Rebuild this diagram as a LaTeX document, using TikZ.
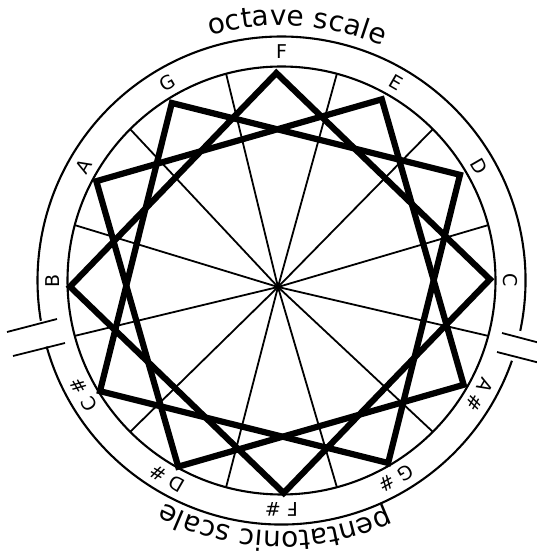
\documentclass[tikz,border=0pt]{standalone}
\usepackage{fontspec}
\setmainfont{DejaVu Sans}
\usetikzlibrary{decorations.text}
\begin{document}
\begin{tikzpicture}[x=1pt,y=1pt,
  thinline/.style={line width=1.8pt},
  ring/.style={line width=2.1pt},
  starline/.style={line width=6.2pt, line join=miter},
  notelabel/.style={font=\fontsize{19}{19}\selectfont, inner sep=0pt},
  arctext/.style={decorate, decoration={text along path, text align=center,
      text={|\fontsize{28}{28}\selectfont|#1}}}
]
\useasboundingbox (0,0) rectangle (537,560);
\coordinate (O) at (281.5,279.5);
\coordinate (H) at (278,273);
\coordinate (S) at (280,277);
% inner circle
\draw[ring] (O) circle (214);
% spokes
\foreach \a in {15,45,...,345}
  \draw[thinline,shift={(O)}] (\a:214) -- (H);
% outer ring, broken at two places
\draw[ring,shift={(O)}] (-11.9:244) arc[start angle=-11.9, end angle=189.5, radius=244];
\draw[ring,shift={(O)}] (195.7:244) arc[start angle=195.7, end angle=340.8, radius=244];
% break marks
\coordinate (L1a) at (7,228);  \coordinate (L1b) at (57,241);
\coordinate (L2a) at (13,204); \coordinate (L2b) at (65,217);
\coordinate (R1a) at (502,227); \coordinate (R1b) at (540,217);
\coordinate (R2a) at (497,208); \coordinate (R2b) at (540,197);
\draw[thinline] (L1a) -- (L1b);
\draw[thinline] (L2a) -- (L2b);
\draw[thinline] (R1a) -- (R1b);
\draw[thinline] (R2a) -- (R2b);
% three squares
\foreach \k in {0,1,2}
  \draw[starline,shift={(S)},rotate=1]
    ({90-30*\k}:210) -- ({-30*\k}:210) -- ({-90-30*\k}:210) -- ({180-30*\k}:210) -- cycle;
% note labels
\foreach \a/\t [count=\i] in {90/F,60/E,30/D,0/C,-30/{A \#},-60/{G \#},-90/{F \#},-120/{D \#},-150/{C \#},180/B,150/A,120/G}
  \path[shift={(O)}] (\a:228.5) node[notelabel,rotate={\a-90}] (note\i) {\t};
% arc titles
\path[shift={(O)},arctext={octave scale}] (126.5:255) arc[start angle=126.5, end angle=46.5, radius=255];
\path[shift={(O)},arctext={pentatonic scale}] (-53.5:251) arc[start angle=-53.5, end angle=-129.5, radius=251];
\end{tikzpicture}
\end{document}
